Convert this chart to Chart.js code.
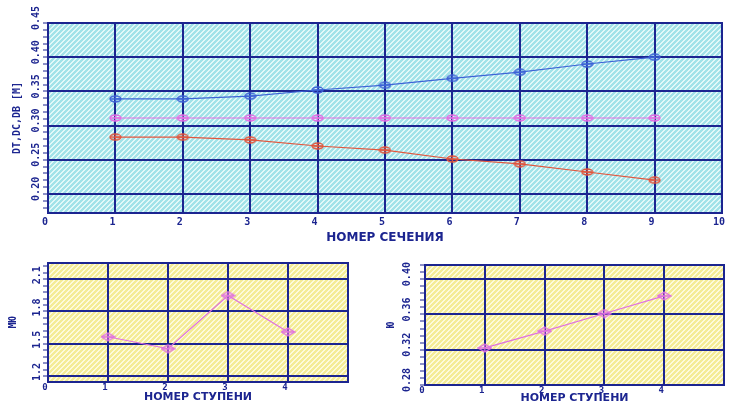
<!DOCTYPE html>
<html><head><meta charset="utf-8">
<script src="https://cdn.jsdelivr.net/npm/chart.js@4.4.1/dist/chart.umd.min.js"></script>
<style>
html,body{margin:0;padding:0;background:#fff;width:731px;height:408px;overflow:hidden}
canvas{position:absolute}
</style></head><body>
<canvas id="c1" width="731" height="245" style="left:0;top:0"></canvas>
<canvas id="c2" width="360" height="158" style="left:0;top:250px"></canvas>
<canvas id="c3" width="361" height="158" style="left:370px;top:250px"></canvas>
<script>
// ---- data ----
const sectionNumbers = [1, 2, 3, 4, 5, 6, 7, 8, 9];
const dtValues = [0.339, 0.339, 0.343, 0.352, 0.359, 0.369, 0.378, 0.390, 0.400];
const dcValues = [0.311, 0.311, 0.311, 0.311, 0.311, 0.311, 0.311, 0.311, 0.311];
const dbValues = [0.283, 0.283, 0.279, 0.270, 0.264, 0.251, 0.244, 0.232, 0.220];
const stageNumbers = [1, 2, 3, 4];
const muValues = [1.565, 1.454, 1.948, 1.610];
const phiValues = [0.322, 0.341, 0.361, 0.381];
// tick labels
const topYMajor = [0.20, 0.25, 0.30, 0.35, 0.40, 0.45];
const topXTicks = [0,1,2,3,4,5,6,7,8,9,10];
const leftYMajor = [1.2, 1.5, 1.8, 2.1];
const rightYMajor = [0.28, 0.32, 0.36, 0.40];
const stageXTicks = [0,1,2,3,4];

const NAVY = '#1c2590';
const MONO = "'DejaVu Sans Mono', monospace";
const SANS = "'DejaVu Sans', sans-serif";

function pts(xs, ys){ return xs.map((x,i)=>({x:x, y:ys[i]})); }

function marker(color, w, h, shape){
  const c = document.createElement('canvas'); c.width=w; c.height=h;
  const g = c.getContext('2d'); g.strokeStyle=color; g.lineWidth=1.3;
  g.beginPath();
  if (shape==='lens') g.ellipse(w/2,h/2,w/2-1,h/2-1,0,0,Math.PI*2);
  else { g.moveTo(w/2,1); g.lineTo(w-1,h/2); g.lineTo(w/2,h-1); g.lineTo(1,h/2); g.closePath(); }
  g.stroke();
  g.beginPath(); g.moveTo(1,h/2); g.lineTo(w-1,h/2); g.moveTo(w/2,1.5); g.lineTo(w/2,h-1.5); g.stroke();
  return c;
}

function hatch(base, stripe){
  const n = 5;
  const c = document.createElement('canvas'); c.width=n; c.height=n;
  const g = c.getContext('2d'); g.fillStyle=base; g.fillRect(0,0,n,n);
  g.fillStyle=stripe;
  for(let i=0;i<n;i++){ g.fillRect(i,(n-1-i),1,1); g.fillRect(i,(2*n-2-i)%n,1,1); }
  return c;
}

function framePlugin(base, stripe){
  return {
    id:'frame',
    beforeDraw(chart){
      const a = chart.chartArea, ctx = chart.ctx;
      ctx.save(); ctx.fillStyle = ctx.createPattern(hatch(base,stripe),'repeat');
      ctx.fillRect(a.left,a.top,a.right-a.left,a.bottom-a.top); ctx.restore();
    },
    afterDraw(chart){
      const a = chart.chartArea, ctx = chart.ctx;
      ctx.save(); ctx.strokeStyle=NAVY; ctx.lineWidth=2;
      ctx.strokeRect(a.left,a.top,a.right-a.left,a.bottom-a.top); ctx.restore();
    }
  };
}

function range(a,b,step){ const r=[]; for(let v=a; v<=b+1e-9; v+=step) r.push(Math.round(v*10000)/10000); return r; }

function yScale(o){
  const isMajor = v => o.majors.some(m=>Math.abs(m-v)<1e-7);
  return {
    type:'linear', min:o.min, max:o.max,
    afterBuildTicks: s => { s.ticks = o.all.map(v=>({value:v})); },
    afterFit: s => { s.width = o.width; },
    ticks:{ autoSkip:false, minRotation:90, maxRotation:90, crossAlign:'center', padding:o.pad, labelOffset:o.lo,
      color:NAVY, font:{family:MONO, size:10, weight:'bold'},
      callback: v => isMajor(v) ? v.toFixed(o.dec) : '' },
    grid:{ color: c => (c.tick && isMajor(c.tick.value)) ? NAVY : 'rgba(0,0,0,0)', lineWidth:2,
      tickColor:NAVY, tickLength:5, tickWidth:1 },
    border:{ display:true, color:NAVY, width:2 },
    title:{ display:true, text:o.title, color:NAVY, font:{family:MONO, size:10, weight:'bold'}, padding:{top:o.tpad,bottom:0} }
  };
}

function xScale(o){
  return {
    type:'linear', min:0, max:o.max,
    afterBuildTicks: s => { s.ticks = range(0,o.max,1).map(v=>({value:v})); },
    afterFit: s => { s.height = o.height; },
    ticks:{ autoSkip:false, maxRotation:0, padding:o.pad, labelOffset:-3, color:NAVY, font:{family:MONO, size:o.fs, weight:'bold'},
      callback: v => o.labels.includes(v) ? String(v) : '' },
    grid:{ color:NAVY, lineWidth:2, drawTicks:false },
    border:{ display:true, color:NAVY, width:2 },
    title:{ display:true, text:o.title, color:NAVY, font:{family:SANS, size:o.tfs, weight:'bold'}, padding:{top:0,bottom:o.tpad} }
  };
}

function lineDs(data, color, mk){
  return { data, borderColor:color, backgroundColor:color, borderWidth:1.2, tension:0,
    pointStyle:mk, pointRadius:5, pointHoverRadius:5, clip:false };
}

const common = { responsive:false, animation:false, devicePixelRatio:1,
  plugins:{ legend:{display:false}, tooltip:{enabled:false} }, events:[] };

new Chart(document.getElementById('c1'), {
  type:'line',
  data:{ datasets:[
    lineDs(pts(sectionNumbers, dtValues), '#3d63d6', marker('#3d63d6',13,8,'lens')),
    lineDs(pts(sectionNumbers, dcValues), '#e46ee4', marker('#e46ee4',13,8,'lens')),
    lineDs(pts(sectionNumbers, dbValues), '#e2553c', marker('#e2553c',13,8,'lens'))
  ]},
  options:{ ...common, layout:{padding:{top:23,right:7,left:0,bottom:0}},
    scales:{
      x: xScale({max:10, height:32, pad:3, fs:10, labels:topXTicks, title:'НОМЕР СЕЧЕНИЯ', tfs:12, tpad:0}),
      y: yScale({min:0.172, max:0.45, majors:topYMajor, all:range(0.18,0.45,0.01), width:48, pad:-5, lo:-5, dec:2, title:'DT,DC,DB [M]', tpad:11})
    }},
  plugins:[framePlugin('#a2e2e8','#e2f8f8')]
});

new Chart(document.getElementById('c2'), {
  type:'line',
  data:{ datasets:[ lineDs(pts(stageNumbers, muValues), '#e070e0', marker('#e070e0',15,10,'diamond')) ]},
  options:{ ...common, layout:{padding:{top:13,right:12,left:0,bottom:0}},
    scales:{
      x: xScale({max:5, height:26, pad:0, fs:9, labels:stageXTicks, title:'НОМЕР СТУПЕНИ', tfs:11, tpad:4}),
      y: yScale({min:1.145, max:2.25, majors:leftYMajor, all:range(1.2,2.22,0.06), width:48, pad:-3, lo:-4, dec:1, title:'МЮ', tpad:7})
    }},
  plugins:[framePlugin('#f4ec96','#fdfadc')]
});

new Chart(document.getElementById('c3'), {
  type:'line',
  data:{ datasets:[ lineDs(pts(stageNumbers, phiValues), '#e070e0', marker('#e070e0',15,10,'diamond')) ]},
  options:{ ...common, layout:{padding:{top:15,right:7,left:0,bottom:0}},
    scales:{
      x: xScale({max:5, height:23, pad:0, fs:9, labels:stageXTicks, title:'НОМЕР СТУПЕНИ', tfs:11, tpad:3}),
      y: yScale({min:0.28, max:0.416, majors:rightYMajor, all:range(0.28,0.416,0.008), width:55, pad:0.5, lo:-5, dec:2, title:'Ю', tpad:15})
    }},
  plugins:[framePlugin('#f4ec96','#fdfadc')]
});
</script>
</body></html>
